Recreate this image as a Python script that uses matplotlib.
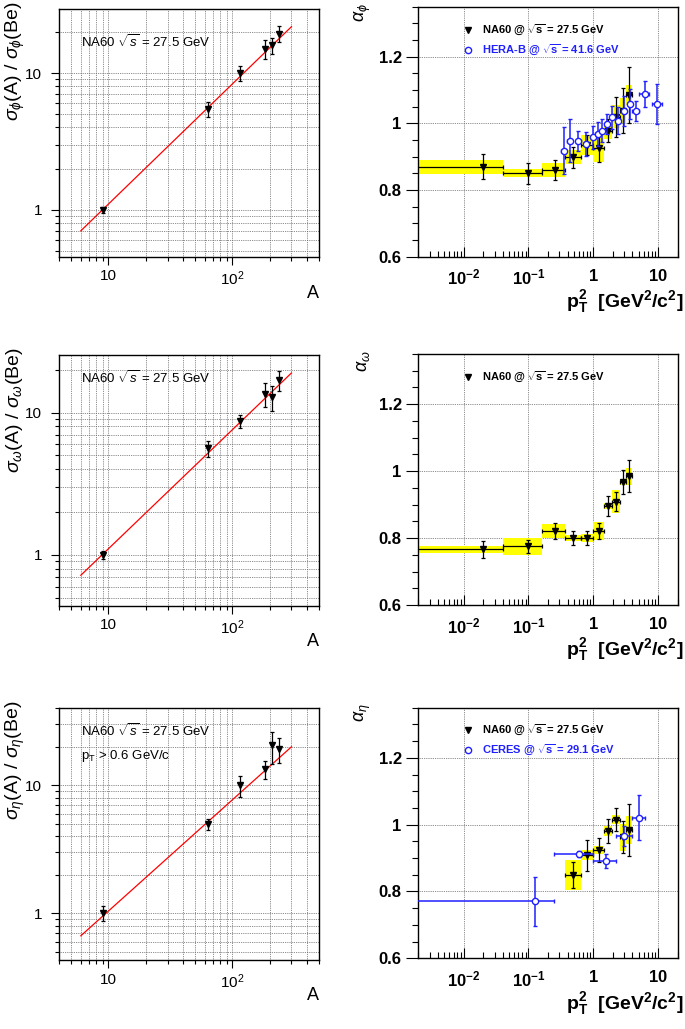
import numpy as np
import matplotlib
matplotlib.use('Agg')
import matplotlib.pyplot as plt
from matplotlib.ticker import LogLocator, NullFormatter, MultipleLocator

plt.rcParams['font.family'] = ['Liberation Sans', 'DejaVu Sans']
plt.rcParams['mathtext.fontset'] = 'custom'
plt.rcParams['mathtext.rm'] = 'Liberation Sans'
plt.rcParams['mathtext.it'] = 'Liberation Sans:italic'
plt.rcParams['mathtext.bf'] = 'Liberation Sans:bold'

# ---- A dependence (left column) ----
A = [9, 64, 115, 184, 207, 238]
phi_ratio = [1.0, 5.45, 10.0, 15.0, 16.0, 19.5]
phi_ratio_err = [0.05, 0.65, 1.2, 2.4, 2.2, 2.7]
omega_ratio = [1.0, 5.6, 8.7, 13.5, 12.8, 17.0]
omega_ratio_err = [0.06, 0.75, 0.9, 2.6, 2.6, 2.7]
eta_ratio = [1.0, 4.95, 10.0, 13.3, 20.5, 19.3]
eta_ratio_err = [0.13, 0.45, 1.9, 2.2, 5.8, 4.3]
fit_A = [6, 300]
phi_fit = [0.70, 21.9]
omega_fit = [0.72, 19.0]
eta_fit = [0.665, 20.0]

# ---- alpha vs pT^2 (right column) ----
pt2 = [0.02, 0.1, 0.26, 0.49, 0.81, 1.21, 1.69, 2.25, 2.89, 3.61]
pt2_lo = [0.001, 0.04, 0.16, 0.36, 0.64, 1.0, 1.44, 1.96, 2.56, 3.24]
pt2_hi = [0.04, 0.16, 0.36, 0.64, 1.0, 1.44, 1.96, 2.56, 3.24, 4.0]

alpha_phi = [0.87, 0.85, 0.86, 0.898, 0.935, 0.925, 0.978, 1.02, 1.038, 1.085]
alpha_phi_stat = [0.037, 0.032, 0.03, 0.031, 0.03, 0.04, 0.035, 0.06, 0.068, 0.083]
alpha_phi_syst = [0.021, 0.012, 0.022, 0.021, 0.031, 0.04, 0.024, 0.035, 0.038, 0.03]

herab_pt2 = [0.35, 0.43, 0.59, 0.77, 1.0, 1.16, 1.34, 1.62, 1.94, 2.43, 3.0, 3.67, 4.5, 6.2, 9.7]
herab_pt2_err = [0.03, 0.04, 0.05, 0.06, 0.07, 0.08, 0.09, 0.1, 0.12, 0.15, 0.2, 0.3, 0.5, 1.1, 1.6]
herab_alpha = [0.918, 0.948, 0.948, 0.938, 0.958, 0.968, 0.978, 0.998, 1.018, 1.008, 1.038, 1.058, 1.038, 1.088, 1.058]
herab_alpha_err = [0.07, 0.065, 0.03, 0.035, 0.035, 0.035, 0.035, 0.03, 0.035, 0.04, 0.045, 0.045, 0.03, 0.04, 0.06]

alpha_omega = [0.766, 0.775, 0.821, 0.8, 0.8, 0.821, 0.896, 0.909, 0.968, 0.985]
alpha_omega_stat = [0.026, 0.02, 0.025, 0.022, 0.022, 0.025, 0.031, 0.029, 0.035, 0.048]
alpha_omega_syst = [0.011, 0.026, 0.02, 0.01, 0.013, 0.028, 0.01, 0.035, 0.009, 0.025]

eta_pt2 = pt2[3:]
eta_pt2_lo = pt2_lo[3:]
eta_pt2_hi = pt2_hi[3:]
alpha_eta = [0.849, 0.908, 0.924, 0.981, 1.015, 0.962, 0.984]
alpha_eta_stat = [0.04, 0.046, 0.037, 0.035, 0.035, 0.048, 0.078]
alpha_eta_syst = [0.045, 0.015, 0.013, 0.015, 0.013, 0.04, 0.042]

ceres_pt2 = [0.124, 0.61, 1.57, 3.0, 5.1]
ceres_pt2_lo = [0.001, 0.25, 1.0, 2.2, 4.0]
ceres_pt2_hi = [0.25, 1.0, 2.2, 4.0, 6.2]
ceres_alpha = [0.77, 0.912, 0.891, 0.967, 1.021]
ceres_alpha_err = [0.073, 0.01, 0.021, 0.03, 0.067]

W, H = 685., 1029.
fig = plt.figure(figsize=(W / 100, H / 100), dpi=100)

blue = '#2020ff'


def left_panel(top, bottom, ylim, y, yerr, fit, name, extra=None, txt_y=0.9):
    ax = fig.add_axes([59 / W, 1 - bottom / H, 260 / W, (bottom - top) / H])
    ax.set_xscale('log')
    ax.set_yscale('log')
    ax.set_xlim(4, 500)
    ax.set_ylim(*ylim)
    ax.grid(True, which='both', ls=(0, (1, 1.2)), color='#666666', lw=0.6)
    ax.plot(fit_A, fit, color='red', lw=0.9)
    ax.errorbar(A, y, yerr=yerr, fmt='v', color='black', ms=4, elinewidth=0.9,
                capsize=1.5, capthick=0.9)
    ax.set_xticks([10, 100], ['10', r'$10^{2}$'])
    ax.set_yticks([1, 10], ['1', '10'])
    ax.xaxis.set_minor_locator(LogLocator(subs=np.arange(2, 10)))
    ax.yaxis.set_minor_locator(LogLocator(subs=np.arange(2, 10)))
    ax.xaxis.set_minor_formatter(NullFormatter())
    ax.yaxis.set_minor_formatter(NullFormatter())
    ax.tick_params(which='both', direction='out', labelsize=11, width=0.8)
    ax.tick_params(which='major', length=6)
    ax.tick_params(which='minor', length=3)
    ax.tick_params(axis='x', pad=3)
    ax.tick_params(axis='y', pad=6)
    for s in ax.spines.values():
        s.set_linewidth(1.0)
    ax.text(0.085, txt_y, r'NA60 $\sqrt{s}$ = 27.5 GeV', transform=ax.transAxes,
            fontsize=9.5, va='center')
    if extra:
        ax.text(0.085, txt_y - 0.1, extra, transform=ax.transAxes, fontsize=9.5, va='center')
    fig.text(15 / W, 1 - (top - 8) / H, r'$\sigma_{%s}$(A) / $\sigma_{%s}$(Be)' % (name, name),
             rotation=90, ha='center', va='top', fontsize=14)
    fig.text(319 / W, 1 - (bottom + 36) / H, 'A', ha='right', va='center', fontsize=13)
    return ax


def right_panel(top, bottom, name):
    ax = fig.add_axes([418.3 / W, 1 - bottom / H, 259.4 / W, (bottom - top) / H])
    ax.set_xscale('log')
    ax.set_xlim(0.002, 20)
    ax.set_ylim(0.6, 1.35)
    ax.grid(True, which='major', ls=(0, (1, 1.2)), color='#666666', lw=0.6)
    ax.set_xticks([0.01, 0.1, 1, 10],
                  [r'$\mathbf{10^{-2}}$', r'$\mathbf{10^{-1}}$', r'$\mathbf{1}$', r'$\mathbf{10}$'])
    ax.xaxis.set_minor_locator(LogLocator(subs=np.arange(2, 10)))
    ax.xaxis.set_minor_formatter(NullFormatter())
    ax.set_yticks([0.6, 0.8, 1.0, 1.2], ['0.6', '0.8', '1', '1.2'])
    ax.yaxis.set_minor_locator(MultipleLocator(0.05))
    for lab in ax.get_yticklabels():
        lab.set_fontweight('bold')
    ax.tick_params(axis='x', which='both', direction='in', labelsize=12, pad=8, width=0.8)
    ax.tick_params(axis='x', which='major', length=7)
    ax.tick_params(axis='x', which='minor', length=4)
    ax.tick_params(axis='y', which='both', direction='out', labelsize=12, pad=3, width=0.8)
    ax.tick_params(axis='y', which='major', length=9)
    ax.tick_params(axis='y', which='minor', length=4.5)
    for s in ax.spines.values():
        s.set_linewidth(1.0)
    fig.text(363 / W, 1 - (top - 4) / H, r'$\alpha_{%s}$' % name, rotation=90,
             ha='center', va='top', fontsize=13)
    fig.text(683 / W, 1 - (bottom + 45) / H,
             r'$\mathbf{p}_{\mathbf{T}}^{\mathbf{2}}$  [GeV$^{\mathbf{2}}$/c$^{\mathbf{2}}$]',
             ha='right', va='center', fontsize=14, fontweight='bold')
    return ax


def na60(ax, x, lo, hi, y, stat, syst):
    x = np.array(x)
    lo = np.array(lo)
    hi = np.array(hi)
    y = np.array(y)
    syst = np.array(syst)
    ax.bar(lo, 2 * syst, width=hi - lo, bottom=y - syst, align='edge',
           color='#ffff00', edgecolor='none', zorder=2)
    ax.errorbar(x, y, yerr=stat, xerr=[x - lo, hi - x], fmt='v', color='black',
                ms=4, elinewidth=0.9, capsize=1.5, capthick=0.9, zorder=4)


def legend(ax, rows):
    for (yy, mk, col, mfc, label) in rows:
        ax.plot([0.1916], [yy], marker=mk, color=col, mfc=mfc, ms=4.5, mew=1,
                transform=ax.transAxes, clip_on=False, ls='none')
        ax.text(0.2456, yy, label, transform=ax.transAxes, color=col, fontsize=8,
                fontweight='bold', va='center')


# row 1: phi
left_panel(9, 257, (0.45, 29.5), phi_ratio, phi_ratio_err, phi_fit, r'\phi', txt_y=0.867)
ax = right_panel(6.7, 256.7, r'\phi')
na60(ax, pt2, pt2_lo, pt2_hi, alpha_phi, alpha_phi_stat, alpha_phi_syst)
ax.errorbar(herab_pt2, herab_alpha, yerr=herab_alpha_err, xerr=herab_pt2_err, fmt='o',
            color=blue, mfc='white', ms=4.5, mew=1, elinewidth=1.1, capsize=1.5, zorder=5)
legend(ax, [(0.907, 'v', 'black', 'black', r'NA60 @ $\mathbf{\sqrt{s}}$ = 27.5 GeV'),
            (0.827, 'o', blue, 'white', r'HERA-B @ $\mathbf{\sqrt{s}}$ = 41.6 GeV')])

# row 2: omega
left_panel(355, 605.7, (0.44, 25.4), omega_ratio, omega_ratio_err, omega_fit, r'\omega', txt_y=0.909)
ax = right_panel(354, 605, r'\omega')
na60(ax, pt2, pt2_lo, pt2_hi, alpha_omega, alpha_omega_stat, alpha_omega_syst)
legend(ax, [(0.91, 'v', 'black', 'black', r'NA60 @ $\mathbf{\sqrt{s}}$ = 27.5 GeV')])

# row 3: eta
left_panel(708.3, 960, (0.43, 40), eta_ratio, eta_ratio_err, eta_fit, r'\eta',
           extra=r'p$_{\rm T}$ > 0.6 GeV/c', txt_y=0.911)
ax = right_panel(707.7, 958.3, r'\eta')
na60(ax, eta_pt2, eta_pt2_lo, eta_pt2_hi, alpha_eta, alpha_eta_stat, alpha_eta_syst)
cx = np.array(ceres_pt2)
ax.errorbar(cx, ceres_alpha, yerr=ceres_alpha_err,
            xerr=[cx - np.array(ceres_pt2_lo), np.array(ceres_pt2_hi) - cx], fmt='o',
            color=blue, mfc='white', ms=4.5, mew=1, elinewidth=1.1, capsize=1.5, zorder=5)
legend(ax, [(0.911, 'v', 'black', 'black', r'NA60 @ $\mathbf{\sqrt{s}}$ = 27.5 GeV'),
            (0.831, 'o', blue, 'white', r'CERES @ $\mathbf{\sqrt{s}}$ = 29.1 GeV')])

fig.savefig('out.png', dpi=100)
